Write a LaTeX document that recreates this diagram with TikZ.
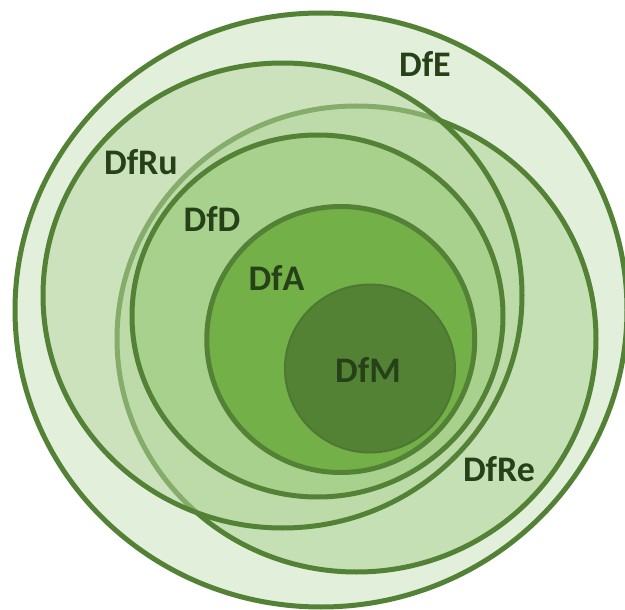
\documentclass[tikz,border=0pt]{standalone}
\usepackage{fontspec}
\setmainfont{Carlito}

\definecolor{rim}{RGB}{83,129,53}
\definecolor{lbl}{RGB}{38,64,24}
\definecolor{fillE}{RGB}{226,239,218}
\definecolor{fillRe}{RGB}{197,224,180}
\definecolor{fillRu}{RGB}{183,215,160}
\definecolor{fillD}{RGB}{169,209,142}
\definecolor{fillA}{RGB}{116,176,72}
\definecolor{fillM}{RGB}{84,130,53}

\begin{document}
\begin{tikzpicture}[x=1pt, y=-1pt,
    ring/.style={draw=rim, line width=5pt},
    lab/.style={text=lbl, font=\bfseries\fontsize{36}{38}\selectfont, inner sep=0pt, anchor=base}]
                \useasboundingbox (0,0) rectangle (625,610);
                \fill[white] (0,0) rectangle (625,610);
                % nested sets, outermost first
                \filldraw[ring, fill=fillE] (321,310) ellipse [x radius=306, y radius=297];
                \filldraw[ring, fill=fillRe] (356.5,339) ellipse [x radius=239.5, y radius=233];
                \filldraw[ring, fill=fillRu, fill opacity=0.5] (282.5,295.5) ellipse [x radius=239.5, y radius=232.5];
                \filldraw[ring, fill=fillD] (317.5,316) ellipse [x radius=185.5, y radius=181];
                \filldraw[ring, fill=fillA] (340.75,339.5) ellipse [x radius=134, y radius=133];
                \filldraw[fill=fillM, draw=fillM!92!black, line width=2pt] (370,368.5) ellipse [x radius=85, y radius=84];
                % set names
                \node[lab] (dfe)  at (425,77)  {DfE};
                \node[lab] (dfru) at (141,175) {DfRu};
                \node[lab] (dfd)  at (212,232) {DfD};
                \node[lab] (dfa)  at (276.5,290) {DfA};
                \node[lab] (dfm)  at (368,382) {DfM};
                \node[lab] (dfre) at (499,481) {DfRe};
            \end{tikzpicture}
\end{document}
